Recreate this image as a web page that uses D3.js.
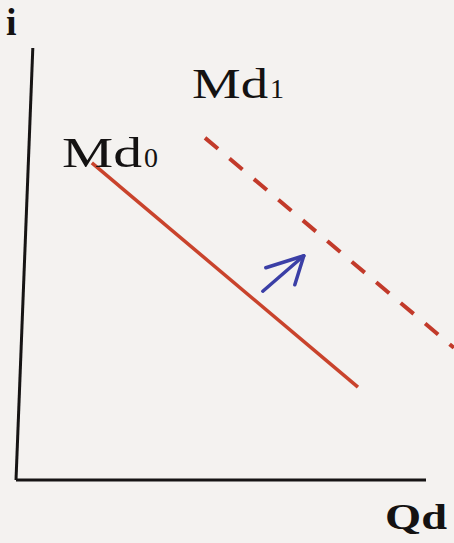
<!DOCTYPE html>
<meta charset="utf-8">
<script src="https://d3js.org/d3.v7.min.js"></script>
<style>
  body { margin: 0; background: #f4f2f0; }
  text { font-family: "Liberation Serif", "DejaVu Serif", serif; fill: #141212; }
</style>
<div id="chart"></div>
<script>
// data (axis units 0..10)
var axisLabels = ["Qd", "i"];
var curveNames = ["Md", "Md"];
var curveSubs = ["0", "1"];
var md0 = [[1.85, 7.34], [8.34, 2.15]];
var md1 = [[4.61, 7.92], [10.68, 3.06]];
var shiftArrow = [[6.02, 4.37], [7.02, 5.19]];
var yAxisLine = [[0, 0], [0.41, 10]];
var xAxisLine = [[0, 0], [10, 0]];

var width = 454, height = 543;

var svg = d3.select("#chart")
    .append("svg")
    .attr("width", width)
    .attr("height", height);

svg.append("rect").attr("width", width).attr("height", height).attr("fill", "#f4f2f0");

var x = d3.scaleLinear().domain([0, 10]).range([16, 426]);
var y = d3.scaleLinear().domain([0, 10]).range([480, 48]);

var line = d3.line()
    .x(function(d) { return x(d[0]); })
    .y(function(d) { return y(d[1]); });

// axes
svg.append("path").datum(yAxisLine)
    .attr("d", line).attr("stroke", "#161414").attr("stroke-width", 3).attr("fill", "none");
svg.append("path").datum(xAxisLine)
    .attr("d", line).attr("stroke", "#161414").attr("stroke-width", 3).attr("fill", "none");

// money demand curves
svg.append("path").datum(md0)
    .attr("d", line).attr("stroke", "#c9432c").attr("stroke-width", 3.5).attr("fill", "none");
svg.append("path").datum(md1)
    .attr("d", line).attr("stroke", "#c23a2a").attr("stroke-width", 4)
    .attr("stroke-dasharray", "17,15").attr("fill", "none");

// blue shift arrow
var tip = shiftArrow[1];
var tx = x(tip[0]), ty = y(tip[1]);
svg.append("path").datum(shiftArrow)
    .attr("d", line).attr("stroke", "#3b3fa6").attr("stroke-width", 3.5)
    .attr("stroke-linecap", "round").attr("fill", "none");
svg.append("path")
    .attr("d", "M" + (tx - 38) + "," + (ty + 12) + "L" + tx + "," + ty + "L" + (tx - 9) + "," + (ty + 29))
    .attr("stroke", "#3b3fa6").attr("stroke-width", 3.5)
    .attr("stroke-linecap", "round").attr("stroke-linejoin", "round").attr("fill", "none");

// labels
svg.append("text").attr("x", 6).attr("y", 35)
    .attr("font-size", 38).attr("font-weight", "bold").text(axisLabels[1]);
svg.append("text").attr("x", 385).attr("y", 529)
    .attr("font-size", 35).attr("font-weight", "bold")
    .attr("textLength", 62).attr("lengthAdjust", "spacingAndGlyphs").text(axisLabels[0]);

function curveLabel(px, py, w, name, sub) {
  var t = svg.append("text").attr("x", px).attr("y", py).attr("font-size", 42);
  t.append("tspan").attr("textLength", w).attr("lengthAdjust", "spacingAndGlyphs").text(name);
  t.append("tspan").attr("font-size", 28).attr("dx", 2).text(sub);
}
curveLabel(62, 167, 80, curveNames[0], curveSubs[0]);
curveLabel(192, 98, 76, curveNames[1], curveSubs[1]);
</script>
